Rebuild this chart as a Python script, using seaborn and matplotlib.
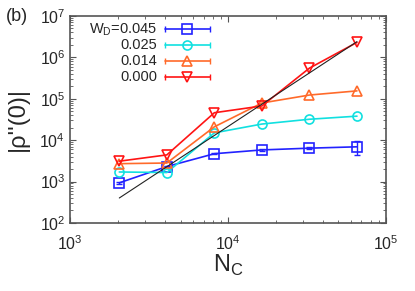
import numpy as np
import pandas as pd
import seaborn as sns
import matplotlib
matplotlib.use("Agg")
import matplotlib.pyplot as plt
from matplotlib.ticker import LogLocator, NullFormatter

# ---- data ----
nc = [2048, 4096, 8192, 16384, 32768, 65536]
labels = ["W$_\\mathregular{D}$=0.045", "0.025", "0.014", "0.000"]
rho_045 = [930, 2300, 4700, 5800, 6400, 6900]
rho_025 = [1700, 1650, 15000, 24500, 32000, 38000]
rho_014 = [2700, 2800, 21000, 79000, 123000, 155000]
rho_000 = [3100, 4400, 46000, 67000, 550000, 2300000]
err_045 = [60, 100, 200, 250, 300, 2500]
fit_x = [2048, 65536]
fit_y = [400, 2400000]

series = [rho_045, rho_025, rho_014, rho_000]
errs = [err_045, None, None, None]
colors = ["#2222ff", "#11e0e0", "#ff6a2a", "#ff1414"]
markers = ["s", "o", "^", "v"]

sns.set_style("ticks")
plt.rcParams["font.family"] = ["Liberation Sans", "DejaVu Sans"]
plt.rcParams["mathtext.fontset"] = "custom"
plt.rcParams["mathtext.rm"] = "Liberation Sans"

fig = plt.figure(figsize=(4.15, 2.91), dpi=100)
ax = fig.add_axes([0.169, 0.234, 0.761, 0.711])

for vals, e, c, m in zip(series, errs, colors, markers):
    df = pd.DataFrame({"N": nc, "rho": vals})
    sns.lineplot(data=df, x="N", y="rho", ax=ax, color=c, marker=m,
                 markersize=6.5, mfc="none", mec=c, mew=1.2, lw=1.2,
                 legend=False)
    if e is not None:
        ax.errorbar(nc, vals, yerr=e, fmt="none", ecolor=c, elinewidth=1.0,
                    capsize=2.5, capthick=1.0)

ax.plot(fit_x, fit_y, color="#222222", lw=0.8)

ax.set_xscale("log")
ax.set_yscale("log")
ax.set_xlim(1e3, 1e5)
ax.set_ylim(1e2, 1e7)
ax.xaxis.set_major_locator(LogLocator(base=10, numticks=10))
ax.yaxis.set_major_locator(LogLocator(base=10, numticks=10))
ax.xaxis.set_minor_locator(LogLocator(base=10, subs=np.arange(2, 10), numticks=20))
ax.yaxis.set_minor_locator(LogLocator(base=10, subs=np.arange(2, 10), numticks=20))
ax.xaxis.set_minor_formatter(NullFormatter())
ax.yaxis.set_minor_formatter(NullFormatter())
ax.tick_params(which="both", direction="in", top=True, right=True,
               labelsize=11.5, color="#555555")
ax.tick_params(which="major", length=4, width=0.8)
ax.tick_params(which="minor", length=2, width=0.6)
ax.tick_params(axis="x", pad=8)
for s in ax.spines.values():
    s.set_linewidth(1.2)
    s.set_color("#555555")

ax.set_xlabel("N$_\\mathregular{C}$", fontsize=17, labelpad=0)
ax.set_ylabel("|ρ''(0)|", fontsize=17, labelpad=8)
fig.text(0.015, 0.945, "(b)", fontsize=13, va="center", ha="left")

# gnuplot-style key: right-aligned text, then line with caps and marker
row_y = [0.935, 0.860, 0.783, 0.706]
for lab, c, m, yy in zip(labels, colors, markers, row_y):
    ax.text(0.275, yy, lab, transform=ax.transAxes, ha="right", va="center",
            fontsize=10.5)
    ax.plot([0.301, 0.443], [yy, yy], transform=ax.transAxes, color=c,
            lw=1.2, clip_on=False)
    ax.plot([0.301, 0.443], [yy, yy], transform=ax.transAxes, color=c,
            lw=0, marker="|", markersize=5, mew=1.0, clip_on=False)
    ax.plot([0.370], [yy], transform=ax.transAxes, color=c, lw=0, marker=m,
            markersize=6.5, mfc="none", mec=c, mew=1.2, clip_on=False)

fig.savefig("out.png", dpi=100)
